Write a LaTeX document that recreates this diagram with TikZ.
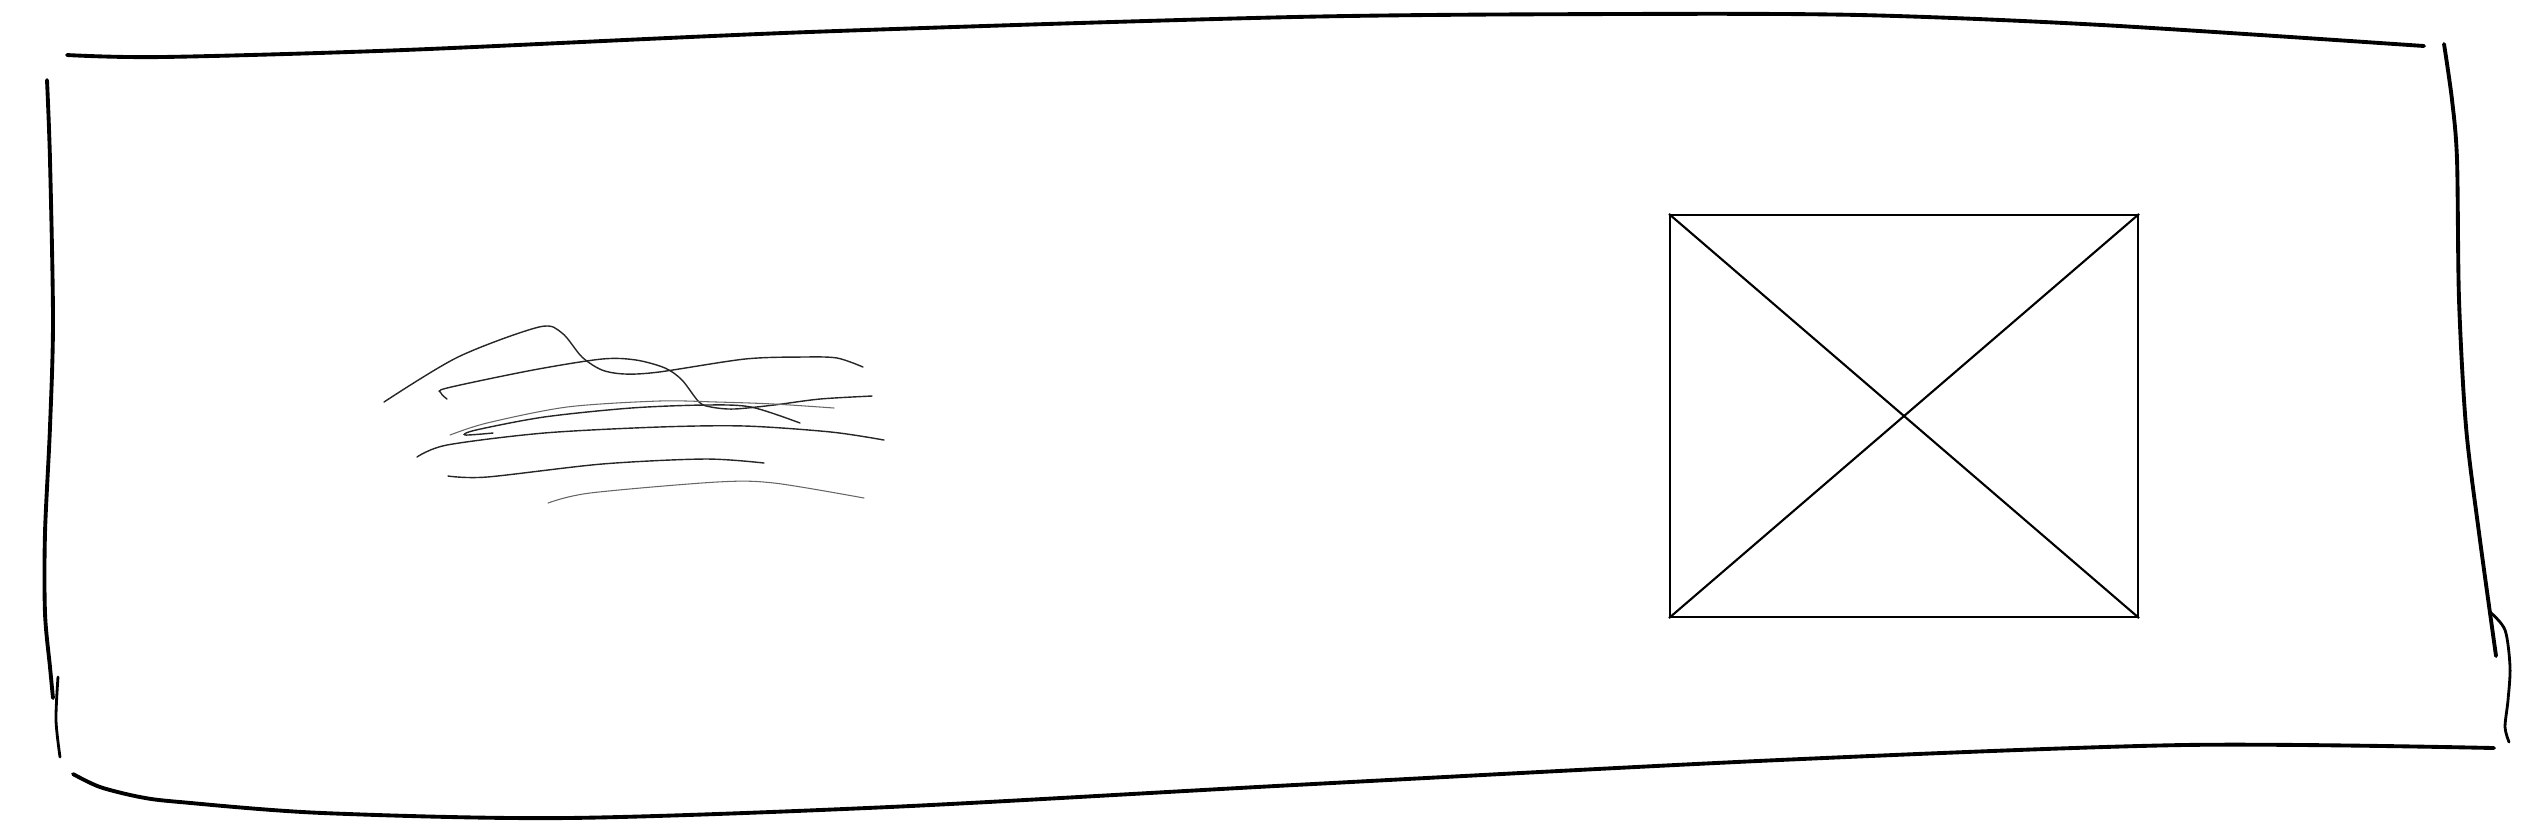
\documentclass[tikz,border=0pt]{standalone}
\begin{document}
\begin{tikzpicture}[
    x=0.1mm, y=-0.1mm,
    frame/.style={line width=1.1pt, line cap=round, line join=round},
    scribble/.style={line width=0.4pt, line cap=round, black!85},
    faint/.style={line width=0.3pt, line cap=round, black!60},
    photo/.style={rectangle, draw, line width=0.6pt, inner sep=0pt,
                  minimum width=46.8mm, minimum height=40.2mm},
  ]
  \useasboundingbox (0,0) rectangle (2536,832);

  % Hand-drawn outer frame
  \draw[frame] plot[smooth] coordinates {(67,55) (162,57) (404,50) (809,32) (1294,17)
    (1617,14) (1860,15) (2102,25) (2424,46)};
  \draw[frame] plot[smooth] coordinates {(2444,44) (2452,100) (2457,160) (2459,300)
    (2466,427) (2479,533) (2496,656)};
  \draw[frame, line width=0.8pt] plot[smooth] coordinates {(2490,612) (2505,630)
    (2510,667) (2508,700) (2505,727) (2509,742)};
  \draw[frame] plot[smooth] coordinates {(73,774) (100,787) (140,797) (180,802)
    (323,813) (566,818) (889,807) (1294,785) (1779,760) (2183,745) (2494,748)};
  \draw[frame] plot[smooth] coordinates {(47,80) (50,160) (53,320) (50,427)
    (45,533) (45,613) (50,667) (53,698)};
  \draw[frame, line width=0.8pt] plot[smooth] coordinates {(58,677) (56,720) (60,757)};

  % Text scribbles
  \draw[scribble] plot[smooth] coordinates {(384,402) (458,357) (539,327) (562,333)
    (582,357) (602,370) (625,374) (659,372) (745,359) (803,357) (837,358) (863,367)};
  \draw[scribble] plot[smooth] coordinates {(447,399) (441,393) (447,388) (533,370)
    (602,359) (636,360) (665,368) (682,380) (699,402) (711,407) (734,409)
    (774,405) (820,399) (872,396)};
  \draw[faint] plot[smooth] coordinates {(450,435) (487,423) (567,407) (659,401)
    (717,402) (774,404) (834,408)};
  \draw[scribble] plot[smooth] coordinates {(493,433) (465,435) (476,430) (544,417)
    (631,408) (705,405) (751,407) (800,423)};
  \draw[scribble] plot[smooth] coordinates {(417,457) (447,445) (544,433) (659,427)
    (745,426) (831,432) (884,440)};
  \draw[scribble] plot[smooth] coordinates {(448,476) (487,477) (602,464) (705,459)
    (764,463)};
  \draw[faint] plot[smooth] coordinates {(548,503) (590,493) (717,482) (774,483)
    (864,498)};

  % Image placeholder
  \node[photo] (img) at (1904,416) {};
  \draw[line width=0.6pt] (img.north west) -- (img.south east);
  \draw[line width=0.6pt] (img.north east) -- (img.south west);

\end{tikzpicture}
\end{document}
